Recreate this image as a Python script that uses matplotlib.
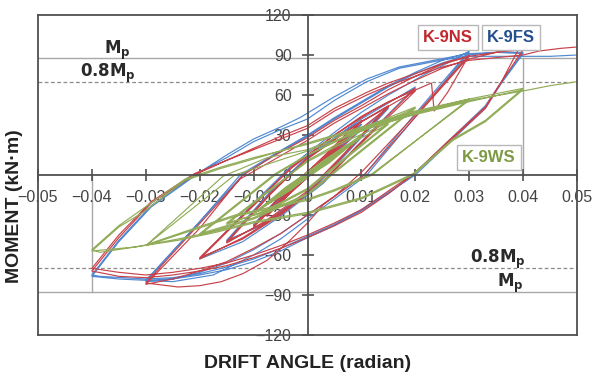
import numpy as np
import matplotlib
matplotlib.use("Agg")
import matplotlib.pyplot as plt

# ---------------- data (drift angle [rad], moment [kN·m]) ----------------
ns_points = [  # K-9NS (red)
    (0, 0), (0.0025, 11), (0.005, 21), (0.002, 7), (-0.0025, -11), (-0.005, -20), (-0.002, -7),
    (0.0025, 10), (0.005, 21), (0.002, 8), (-0.0025, -10), (-0.005, -21), (-0.002, -8),
    (0.003, 12), (0.0075, 31), (0.003, 10), (-0.003, -13), (-0.0075, -30), (-0.003, -9),
    (0.003, 14), (0.0075, 32), (0.003, 11), (-0.003, -12), (-0.0075, -31), (-0.003, -10),
    (0.004, 15), (0.01, 40), (0.004, 12), (-0.004, -16), (-0.01, -38), (-0.004, -11),
    (0.004, 16), (0.01, 41), (0.004, 13), (-0.004, -15), (-0.01, -39), (-0.004, -12),
    (0.004, 12), (0.01, 35), (0.015, 51), (0.007, 16), (0.0, -14), (-0.008, -36), (-0.015, -50),
    (-0.007, -14), (0.0, 12), (0.008, 35), (0.015, 52), (0.007, 17), (0.0, -12), (-0.008, -35),
    (-0.015, -51), (-0.007, -15),
    (0.0, 13), (0.01, 40), (0.02, 63), (0.009, 20), (0.003, -5), (-0.005, -30), (-0.012, -48),
    (-0.02, -62), (-0.009, -18), (-0.003, 5), (0.005, 30), (0.012, 48), (0.02, 65), (0.009, 21),
    (0.003, -4), (-0.005, -29), (-0.012, -47), (-0.02, -63), (-0.009, -19),
    (-0.003, 6), (0.005, 30), (0.01, 44), (0.015, 55), (0.019, 62), (0.023, 69), (0.0235, 48),
    (0.026, 62), (0.028, 76), (0.03, 90),
    (0.02, 45), (0.01, 2), (0.005, -16), (0.0, -30), (-0.005, -44), (-0.01, -55), (-0.015, -65),
    (-0.02, -72), (-0.025, -78), (-0.03, -82),
    (-0.02, -40), (-0.012, 0), (-0.006, 15), (0.0, 28), (0.005, 41), (0.01, 52), (0.015, 64),
    (0.02, 74), (0.025, 83), (0.03, 89),
    (0.0105, 0), (0.003, -22), (0.0, -36), (-0.0035, -50), (-0.0075, -64), (-0.012, -74),
    (-0.016, -80), (-0.02, -83), (-0.024, -84), (-0.03, -81),
    (-0.0125, -3), (-0.006, 12), (0.0, 26), (0.005, 39), (0.01, 50), (0.015, 61), (0.02, 71),
    (0.025, 80), (0.03, 87), (0.035, 92), (0.04, 94),
    (0.036, 70), (0.033, 51), (0.026, 25), (0.0195, 0), (0.015, -14), (0.01, -28), (0.005, -38),
    (0.0, -47), (-0.005, -55), (-0.01, -62), (-0.015, -68), (-0.02, -72), (-0.025, -75),
    (-0.03, -77), (-0.035, -76), (-0.04, -72),
    (-0.035, -47), (-0.029, -21), (-0.021, 0), (-0.015, 11), (-0.01, 20), (-0.005, 29),
    (0.0, 37), (0.005, 50), (0.011, 62), (0.015, 69), (0.02, 76), (0.026, 85), (0.03, 89),
    (0.035, 92), (0.0395, 97),
    (0.036, 70), (0.033, 50), (0.026, 24), (0.02, 2), (0.015, -12), (0.01, -26), (0.005, -36),
    (0.0, -45), (-0.005, -53), (-0.01, -60), (-0.015, -66), (-0.02, -70), (-0.025, -73),
    (-0.03, -75), (-0.035, -73), (-0.04, -70),
    (-0.035, -45), (-0.029, -20), (-0.021, 1), (-0.015, 11), (-0.01, 19), (-0.005, 27),
    (0.0, 35), (0.005, 48), (0.011, 60), (0.015, 67), (0.02, 74), (0.025, 81), (0.03, 86),
    (0.035, 88), (0.04, 90), (0.043, 93), (0.047, 95), (0.05, 96),
]

fs_points = [  # K-9FS (blue)
    (0, 0), (0.0025, 10), (0.005, 19), (0.002, 6), (-0.0025, -10), (-0.005, -19), (-0.002, -6),
    (0.003, 12), (0.0075, 29), (0.003, 9), (-0.003, -12), (-0.0075, -29), (-0.003, -9),
    (0.004, 15), (0.01, 38), (0.004, 11), (-0.004, -15), (-0.01, -37), (-0.004, -11),
    (0.004, 14), (0.01, 38), (0.004, 12), (-0.004, -14), (-0.01, -38), (-0.004, -12),
    (0.004, 12), (0.01, 34), (0.015, 50), (0.007, 15), (0.0, -15), (-0.008, -37), (-0.015, -49),
    (-0.007, -13), (0.0, 13), (0.008, 36), (0.015, 51), (0.007, 16), (0.0, -13), (-0.008, -36),
    (-0.015, -50), (-0.007, -14),
    (0.0, 14), (0.01, 42), (0.02, 66), (0.009, 21), (0.003, -6), (-0.005, -31), (-0.012, -50),
    (-0.02, -63), (-0.009, -17), (-0.003, 7), (0.005, 32),
    (0.01, 47), (0.015, 60), (0.022, 76), (0.027, 86), (0.03, 93),
    (0.02, 46), (0.0105, 0), (0.005, -16), (0.0, -30), (-0.005, -44), (-0.01, -56),
    (-0.015, -66), (-0.02, -73), (-0.025, -78), (-0.03, -80),
    (-0.02, -35), (-0.0125, 0), (-0.006, 16), (0.0, 30), (0.005, 43), (0.01, 55), (0.015, 67),
    (0.02, 77), (0.025, 86), (0.03, 92),
    (0.011, 0), (0.005, -18), (0.0, -33), (-0.005, -48), (-0.01, -60), (-0.0175, -75),
    (-0.025, -80), (-0.03, -79),
    (-0.02, -35), (-0.012, 0), (-0.006, 15), (0.0, 29), (0.005, 42), (0.01, 54), (0.015, 66),
    (0.02, 76), (0.025, 84), (0.03, 90), (0.035, 92), (0.04, 92),
    (0.036, 70), (0.033, 52), (0.026, 25), (0.0196, 0), (0.015, -14), (0.01, -27), (0.005, -38),
    (0.0, -47), (-0.005, -57), (-0.01, -65), (-0.015, -71), (-0.02, -75), (-0.025, -78),
    (-0.03, -79), (-0.035, -78), (-0.04, -76),
    (-0.035, -50), (-0.029, -24), (-0.02, 2), (-0.015, 15), (-0.01, 27), (-0.005, 36),
    (-0.0014, 43), (0.0047, 58), (0.011, 72), (0.017, 81), (0.026, 88), (0.03, 91),
    (0.035, 92), (0.04, 91),
    (0.036, 69), (0.033, 50), (0.026, 23), (0.02, 0), (0.015, -13), (0.01, -26), (0.005, -37),
    (0.0, -46), (-0.005, -55), (-0.01, -63), (-0.015, -69), (-0.02, -74), (-0.025, -77),
    (-0.03, -78), (-0.0385, -76), (-0.04, -75),
    (-0.035, -49), (-0.029, -23), (-0.021, 0), (-0.015, 13), (-0.01, 25), (-0.005, 34),
    (0.0, 42), (0.005, 56), (0.011, 70), (0.017, 80), (0.026, 87), (0.03, 89), (0.035, 89),
    (0.04, 89), (0.045, 89), (0.05, 90),
]

ws_points = [  # K-9WS (green)
    (0, 0), (0.0025, 8), (0.005, 15), (0.002, 5), (-0.0025, -8), (-0.005, -15), (-0.002, -5),
    (0.0025, 8), (0.005, 16), (0.002, 5), (-0.0025, -8), (-0.005, -15), (-0.002, -5),
    (0.003, 10), (0.0075, 22), (0.003, 7), (-0.003, -10), (-0.0075, -22), (-0.003, -7),
    (0.003, 11), (0.0075, 23), (0.003, 8), (-0.003, -11), (-0.0075, -22), (-0.003, -8),
    (0.004, 12), (0.01, 29), (0.004, 9), (-0.004, -12), (-0.01, -29), (-0.004, -9),
    (0.004, 13), (0.01, 30), (0.004, 10), (-0.004, -13), (-0.01, -29), (-0.004, -10),
    (0.004, 11), (0.01, 28), (0.015, 38), (0.007, 12), (0.0, -11), (-0.008, -28), (-0.015, -36),
    (-0.007, -11), (0.0, 10), (0.008, 27), (0.015, 39), (0.007, 13), (0.0, -10), (-0.008, -27),
    (-0.015, -37), (-0.007, -12),
    (0.0, 11), (0.01, 33), (0.02, 50), (0.0045, 0), (0.0, -15), (-0.01, -33), (-0.02, -45),
    (-0.006, 0), (0.0, 15), (0.01, 35), (0.02, 51), (0.0045, 1), (0.0, -14), (-0.01, -32),
    (-0.02, -44), (-0.006, 1),
    (0.0, 15), (0.01, 34), (0.02, 47), (0.03, 57),
    (0.012, 0), (0.005, -12), (0.0, -19), (-0.0134, -31), (-0.021, -41), (-0.03, -53),
    (-0.0135, 0), (0.0, 18), (0.01, 33), (0.02, 46), (0.03, 56),
    (0.012, 1), (0.005, -11), (0.0, -18), (-0.0134, -30), (-0.021, -40), (-0.0297, -52),
    (-0.0157, -1), (-0.0075, 13), (0.0, 19), (0.0066, 30), (0.0196, 45), (0.03, 55), (0.04, 64),
    (0.033, 40), (0.027, 26), (0.0196, 0), (0.01, -18), (0.0, -29), (-0.01, -36),
    (-0.017, -43), (-0.024, -49), (-0.032, -54), (-0.04, -57),
    (-0.035, -39), (-0.0305, -28), (-0.0227, -4), (-0.016, 5), (-0.01, 12), (0.0, 24),
    (0.01, 36), (0.02, 48), (0.03, 57), (0.04, 65),
    (0.033, 41), (0.027, 27), (0.0196, 1), (0.01, -17), (0.0, -28), (-0.01, -35),
    (-0.017, -42), (-0.024, -48), (-0.032, -54), (-0.0385, -58), (-0.04, -56),
    (-0.035, -38), (-0.0227, -3), (-0.016, 6), (-0.01, 13), (0.0, 23), (0.01, 35), (0.02, 47),
    (0.03, 56), (0.04, 63), (0.045, 67), (0.05, 70),
]

mp_value = 87.5
mp08_value = 70.0
x_ticks = [-0.05, -0.04, -0.03, -0.02, -0.01, 0.0, 0.01, 0.02, 0.03, 0.04, 0.05]
x_tick_labels = ["\u22120.05", "\u22120.04", "\u22120.03", "\u22120.02", "\u22120.01", "0",
                 "0.01", "0.02", "0.03", "0.04", "0.05"]
y_ticks = [-120, -90, -60, -30, 0, 30, 60, 90, 120]
y_tick_labels = ["\u2212120", "\u221290", "\u221260", "\u221230", "0", "30", "60", "90", "120"]

# ---------------- figure ----------------
plt.rcParams['font.family'] = ['Liberation Sans', 'DejaVu Sans']
W, H = 593, 377
fig = plt.figure(figsize=(W / 100, H / 100), dpi=100)
ax = fig.add_axes([38 / W, 1 - 335 / H, 539 / W, 320 / H])
ax.set_xlim(-0.05, 0.05)
ax.set_ylim(-120, 120)

axis_col = '#505050'
# reference lines
ref_col = '#a8a8a8'
ax.axhline(mp_value, color=ref_col, lw=1.0, zorder=1)
ax.axhline(-mp_value, color=ref_col, lw=1.0, zorder=1)
ax.axhline(mp08_value, color='#8a8a8a', lw=0.9, ls=(0, (3, 2)), zorder=1)
ax.axhline(-mp08_value, color='#8a8a8a', lw=0.9, ls=(0, (3, 2)), zorder=1)
ax.plot([0.04, 0.04], [0, mp_value], color=ref_col, lw=1.0, zorder=1)
ax.plot([-0.04, -0.04], [0, -mp_value], color=ref_col, lw=1.0, zorder=1)

colors = {'fs': '#5089d2', 'ns': '#c8424a', 'ws': '#92ad5a'}
for key, pts in [('fs', fs_points), ('ns', ns_points), ('ws', ws_points)]:
    xs = [p[0] for p in pts]
    ys = [p[1] for p in pts]
    ax.plot(xs, ys, color=colors[key], lw=0.85, zorder=2)

# spines: centre axes + frame
for s in ['top', 'right']:
    ax.spines[s].set_color(axis_col)
    ax.spines[s].set_linewidth(1.3)
ax.spines['left'].set_position(('data', 0))
ax.spines['bottom'].set_position(('data', 0))
ax.spines['left'].set_color(axis_col)
ax.spines['bottom'].set_color(axis_col)
ax.spines['left'].set_linewidth(1.3)
ax.spines['bottom'].set_linewidth(1.3)
ax.plot([0, 0], [0, 1], transform=ax.transAxes, color=axis_col, lw=1.3, clip_on=False, zorder=3)
ax.plot([0, 1], [0, 0], transform=ax.transAxes, color=axis_col, lw=1.3, clip_on=False, zorder=3)

ax.set_xticks(x_ticks)
ax.set_xticklabels(x_tick_labels)
ax.set_yticks(y_ticks)
ax.set_yticklabels(y_tick_labels)
ax.tick_params(axis='x', direction='inout', length=9, width=1.2, color=axis_col,
               pad=6, labelsize=11.5, labelcolor='#444444')
ax.tick_params(axis='y', direction='inout', length=9, width=1.2, color=axis_col,
               pad=7, labelsize=11.5, labelcolor='#444444')

# Mp annotations
tcol = '#2a2a2a'
ax.text(-0.0352, 93.5, r'$\mathbf{M_p}$', ha='center', va='center', fontsize=12, color=tcol)
ax.text(-0.037, 76.5, r'$\mathbf{0.8M_p}$', ha='center', va='center', fontsize=12, color=tcol)
ax.text(0.0354, -63.5, r'$\mathbf{0.8M_p}$', ha='center', va='center', fontsize=12, color=tcol)
ax.text(0.0376, -81, r'$\mathbf{M_p}$', ha='center', va='center', fontsize=12, color=tcol)

# specimen labels
box = dict(boxstyle='square,pad=0.3', fc='white', ec='#b8b8b8', lw=1.0)
ax.text(0.0261, 102.8, 'K-9NS', ha='center', va='center', fontsize=12, fontweight='bold',
        color='#c0282e', bbox=box, zorder=5)
ax.text(0.0378, 102.8, 'K-9FS', ha='center', va='center', fontsize=12, fontweight='bold',
        color='#244f8c', bbox=box, zorder=5)
ax.text(0.0337, 13.5, 'K-9WS', ha='center', va='center', fontsize=12, fontweight='bold',
        color='#7d9a45', bbox=box, zorder=5)

# axis titles
fig.text(308 / W, 1 - 363 / H, 'DRIFT ANGLE (radian)', ha='center', va='center',
         fontsize=14, fontweight='bold', color='#222222')
fig.text(15 / W, 1 - 206 / H, 'MOMENT (kN\u00b7m)', ha='center', va='center', rotation=90,
         fontsize=14, fontweight='bold', color='#222222')

fig.savefig('out.png', dpi=100)
